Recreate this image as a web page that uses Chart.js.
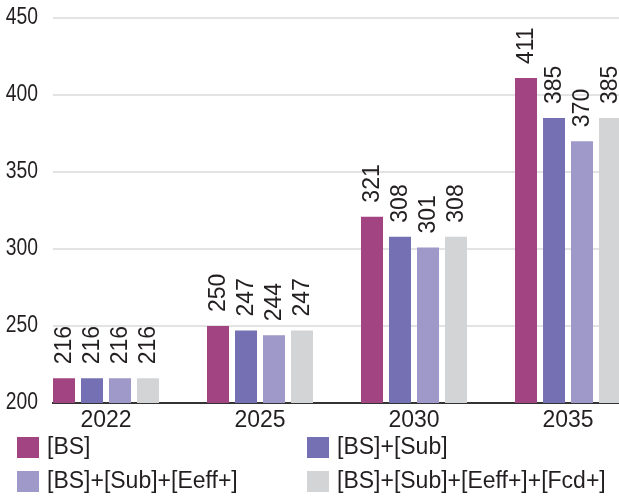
<!DOCTYPE html>
<html>
<head>
<meta charset="utf-8">
<script src="https://cdn.jsdelivr.net/npm/chart.js@4/dist/chart.umd.min.js"></script>
<style>
  html, body { margin: 0; padding: 0; background: #fff; overflow: hidden; }
  #wrap { width: 619px; height: 499px; }
</style>
</head>
<body>
<div id="wrap"><canvas id="c" width="619" height="499"></canvas></div>
<script>
// Years on the horizontal axis
const categories = ['2022', '2025', '2030', '2035'];

// Scenario series
const seriesNames = ['[BS]', '[BS]+[Sub]', '[BS]+[Sub]+[Eeff+]', '[BS]+[Sub]+[Eeff+]+[Fcd+]'];
const bsValues      = [216, 250, 321, 411];
const subValues     = [216, 247, 308, 385];
const eeffValues    = [216, 244, 301, 370];
const fcdValues     = [216, 247, 308, 385];
const seriesColors  = ['#A34482', '#7570B3', '#9E99C9', '#D3D4D6'];

// Value axis ticks
const yTicks = [200, 250, 300, 350, 400, 450];

const TEXT = '#231F20';
const FONT = '"Liberation Sans", Arial, sans-serif';

const seriesValues = [bsValues, subValues, eeffValues, fcdValues];

// Rotated value labels above each bar
const barValueLabels = {
  id: 'barValueLabels',
  afterDatasetsDraw(chart) {
    const ctx = chart.ctx;
    ctx.save();
    ctx.font = '23px ' + FONT;
    ctx.fillStyle = TEXT;
    ctx.textAlign = 'left';
    ctx.textBaseline = 'middle';
    chart.data.datasets.forEach((ds, di) => {
      chart.getDatasetMeta(di).data.forEach((bar, i) => {
        ctx.save();
        ctx.translate(bar.x + 1, bar.y - 14);
        ctx.rotate(-Math.PI / 2);
        ctx.fillText(String(ds.data[i].y), 0, 0);
        ctx.restore();
      });
    });
    ctx.restore();
  }
};

// Condensed value-axis labels, right-aligned against the plot
const narrowYLabels = {
  id: 'narrowYLabels',
  afterDraw(chart) {
    const ctx = chart.ctx;
    const y = chart.scales.y;
    ctx.save();
    ctx.font = '23px ' + FONT;
    ctx.fillStyle = TEXT;
    ctx.textAlign = 'right';
    ctx.textBaseline = 'middle';
    y.ticks.forEach(t => {
      ctx.save();
      ctx.translate(chart.chartArea.left - 15, y.getPixelForValue(t.value));
      ctx.scale(0.84, 1);
      ctx.fillText(String(t.value), 0, 0);
      ctx.restore();
    });
    ctx.restore();
  }
};

// Two-column legend under the axis
const gridLegend = {
  id: 'gridLegend',
  afterDraw(chart) {
    const ctx = chart.ctx;
    const colX = [17, 307];
    const rowY = [437, 471];
    ctx.save();
    ctx.font = '23px ' + FONT;
    ctx.textBaseline = 'middle';
    ctx.textAlign = 'left';
    chart.data.datasets.forEach((ds, i) => {
      const x = colX[i % 2];
      const y = rowY[Math.floor(i / 2)];
      ctx.fillStyle = ds.backgroundColor;
      ctx.fillRect(x, y, 22, 21);
      ctx.fillStyle = TEXT;
      ctx.fillText(ds.label, x + 30, y + 11);
    });
    ctx.restore();
  }
};

new Chart(document.getElementById('c'), {
  type: 'bar',
  data: {
    datasets: seriesNames.map((name, s) => ({
      label: name,
      data: seriesValues[s].map((v, i) => ({ x: i, y: v })),
      backgroundColor: seriesColors[s],
      borderWidth: 0,
      categoryPercentage: 0.7273,
      barPercentage: 0.7857
    }))
  },
  options: {
    responsive: false,
    animation: false,
    events: [],
    layout: { padding: { top: 18, left: 0, right: 0, bottom: 0 } },
    plugins: { legend: { display: false }, tooltip: { enabled: false } },
    scales: {
      x: {
        type: 'linear',
        offset: false,
        bounds: 'data',
        min: -0.3442,
        max: 3.3311,
        afterBuildTicks(scale) {
          scale.ticks = categories.map((_, i) => ({ value: i }));
        },
        afterFit(scale) { scale.height = 96; },
        grid: { display: false, drawTicks: false, offset: false },
        border: { display: true, color: '#333333', width: 2 },
        ticks: {
          padding: 4,
          autoSkip: false,
          maxRotation: 0,
          color: TEXT,
          font: { family: FONT, size: 23 },
          callback: (v) => categories[v] ?? ''
        }
      },
      y: {
        min: yTicks[0],
        max: yTicks[yTicks.length - 1],
        afterBuildTicks(scale) {
          scale.ticks = yTicks.map(v => ({ value: v }));
        },
        afterFit(scale) { scale.width = 53; },
        grid: { color: '#E3E3E3', lineWidth: 2, drawTicks: false },
        border: { display: false },
        ticks: { display: false }
      }
    }
  },
  plugins: [barValueLabels, narrowYLabels, gridLegend]
});
</script>
</body>
</html>
